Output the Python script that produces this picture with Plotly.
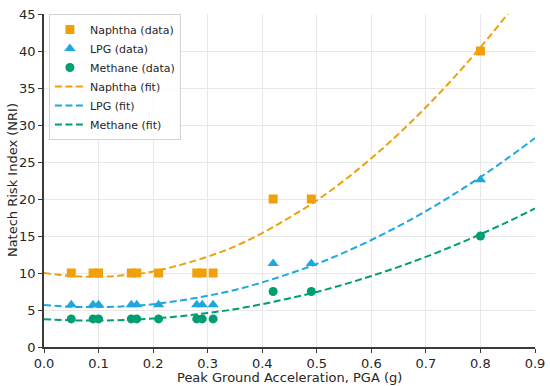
import plotly.graph_objects as go

pga = [0.05, 0.09, 0.10, 0.16, 0.17, 0.21, 0.28, 0.29, 0.31, 0.42, 0.49, 0.80]
naphtha = [10, 10, 10, 10, 10, 10, 10, 10, 10, 20, 20, 40]
lpg = [5.7, 5.7, 5.7, 5.7, 5.7, 5.7, 5.7, 5.7, 5.7, 11.3, 11.3, 22.6]
methane = [3.8, 3.8, 3.8, 3.8, 3.8, 3.8, 3.8, 3.8, 3.8, 7.5, 7.5, 15.0]

fit_x = [0.0, 0.05, 0.1, 0.15, 0.2, 0.25, 0.3, 0.35, 0.4, 0.45, 0.5,
         0.55, 0.6, 0.65, 0.7, 0.75, 0.8, 0.85, 0.9]
naphtha_fit = [10.0, 9.6, 9.5, 9.7, 10.2, 11.1, 12.2, 13.6, 15.4, 17.5, 19.8,
               22.5, 25.5, 28.8, 32.4, 36.3, 40.5, 45.0, 49.8]
lpg_fit = [5.67, 5.44, 5.39, 5.50, 5.78, 6.29, 6.92, 7.71, 8.73, 9.92, 11.23,
           12.76, 14.46, 16.33, 18.37, 20.58, 22.96, 25.52, 28.24]
methane_fit = [3.76, 3.61, 3.57, 3.65, 3.84, 4.17, 4.59, 5.11, 5.79, 6.58, 7.44,
               8.46, 9.59, 10.83, 12.18, 13.65, 15.23, 16.92, 18.72]

x_ticks = [0.0, 0.1, 0.2, 0.3, 0.4, 0.5, 0.6, 0.7, 0.8, 0.9]
y_ticks = [0, 5, 10, 15, 20, 25, 30, 35, 40, 45]

c_n = "#EFA00B"
c_l = "#1FA8DE"
c_m = "#009E73"
dash = "7px,3.5px"

fig = go.Figure()
fig.add_trace(go.Scatter(x=pga, y=naphtha, mode="markers", name="Naphtha (data)",
                         marker=dict(symbol="square", size=9, color=c_n)))
fig.add_trace(go.Scatter(x=pga, y=lpg, mode="markers", name="LPG (data)",
                         marker=dict(symbol="triangle-up", size=10, color=c_l)))
fig.add_trace(go.Scatter(x=pga, y=methane, mode="markers", name="Methane (data)",
                         marker=dict(symbol="circle", size=9, color=c_m)))
fig.add_trace(go.Scatter(x=fit_x, y=naphtha_fit, mode="lines", name="Naphtha (fit)",
                         line=dict(color=c_n, width=2, dash=dash, shape="spline")))
fig.add_trace(go.Scatter(x=fit_x, y=lpg_fit, mode="lines", name="LPG (fit)",
                         line=dict(color=c_l, width=2, dash=dash, shape="spline")))
fig.add_trace(go.Scatter(x=fit_x, y=methane_fit, mode="lines", name="Methane (fit)",
                         line=dict(color=c_m, width=2, dash=dash, shape="spline")))

axis_common = dict(showgrid=True, gridcolor="#e8e8e8", gridwidth=1,
                   showline=True, linecolor="#3a3a3a", linewidth=1.6,
                   ticks="outside", ticklen=4, tickwidth=1.2, tickcolor="#3a3a3a",
                   tickfont=dict(size=13, color="#262626"), zeroline=False,
                   mirror=False, automargin=False)

fig.update_layout(
    width=550, height=386,
    margin=dict(l=44, r=15, t=14, b=39),
    paper_bgcolor="white", plot_bgcolor="white",
    font=dict(family="DejaVu Sans", size=13, color="#262626"),
    xaxis=dict(range=[0, 0.9], tickvals=x_ticks, ticktext=[f"{v:.1f}" for v in x_ticks],
               ticklabelstandoff=0, **axis_common),
    yaxis=dict(range=[0, 45], tickvals=y_ticks, **axis_common),
    legend=dict(x=0.01, y=1.0, xanchor="left", yanchor="top",
                bgcolor="rgba(255,255,255,0.85)", bordercolor="#d4d4d4", borderwidth=1,
                font=dict(size=11), tracegroupgap=0, itemwidth=30),
    showlegend=True,
    annotations=[
        dict(text="Peak Ground Acceleration, PGA (g)", xref="paper", yref="paper",
             x=0.5, y=-0.092, xanchor="center", yanchor="middle", showarrow=False,
             font=dict(size=13)),
        dict(text="Natech Risk Index (NRI)", xref="paper", yref="paper",
             x=-0.064, y=0.5, xanchor="center", yanchor="middle", showarrow=False,
             textangle=-90, font=dict(size=13)),
    ],
)

fig.write_html("out.html", config={"displayModeBar": False},
               post_script="document.body.style.margin='0';document.body.style.padding='0';")
